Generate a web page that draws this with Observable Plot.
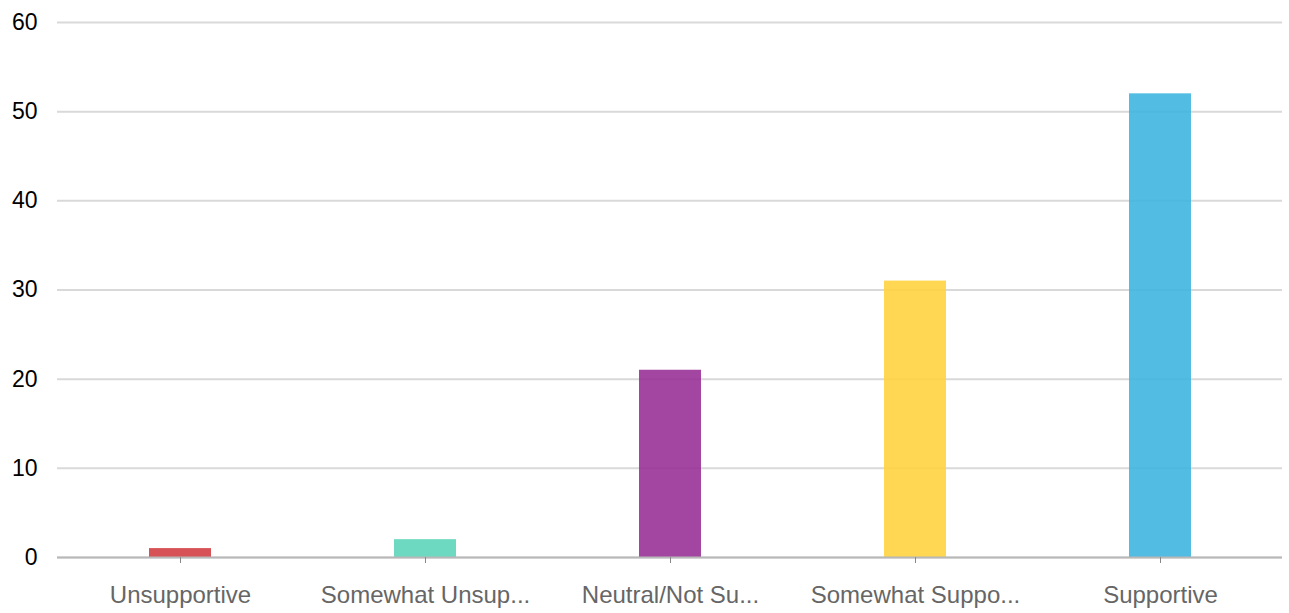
<!DOCTYPE html>
<html>
<head>
<meta charset="utf-8">
<script src="https://cdn.jsdelivr.net/npm/d3@7"></script>
<script src="https://cdn.jsdelivr.net/npm/@observablehq/plot@0.6"></script>
<style>
  html, body { margin: 0; padding: 0; background: #fff; }
  #chart svg { display: block; }
</style>
</head>
<body>
<div id="chart"></div>
<script>
const categories = ["Unsupportive", "Somewhat Unsup...", "Neutral/Not Su...", "Somewhat Suppo...", "Supportive"];
const values = [1, 2, 21, 31, 52];
const colors = ["#d13a40", "#5ad4b8", "#962c95", "#ffd13a", "#3ab3de"];
const yTicks = [0, 10, 20, 30, 40, 50, 60];

const data = categories.map((c, i) => ({category: c, value: values[i], color: colors[i]}));

const chart = Plot.plot({
  width: 1289,
  height: 613,
  marginLeft: 57,
  marginRight: 7,
  marginTop: 22,
  marginBottom: 56,
  style: {fontFamily: "'Liberation Sans', Arial, sans-serif", fontSize: "22px", background: "#fff"},
  x: {domain: categories, paddingInner: 0.747, paddingOuter: 0.3735, label: null},
  y: {domain: [0, 60], label: null},
  marks: [
    Plot.gridY(yTicks, {stroke: "#d9d9d9", strokeOpacity: 1, strokeWidth: 2}),
    Plot.barY(data, {x: "category", y: "value", fill: "color", fillOpacity: 0.88}),
    Plot.ruleY([0], {stroke: "#b8b8b8", strokeWidth: 2}),
    Plot.axisY(yTicks, {tickSize: 0, tickPadding: 20, fill: "#000", fontSize: 23, label: null}),
    Plot.axisX({tickSize: 6, tickPadding: 22, stroke: "#888", fill: "#666", fontSize: 24, label: null})
  ]
});
document.getElementById("chart").appendChild(chart);
</script>
</body>
</html>
